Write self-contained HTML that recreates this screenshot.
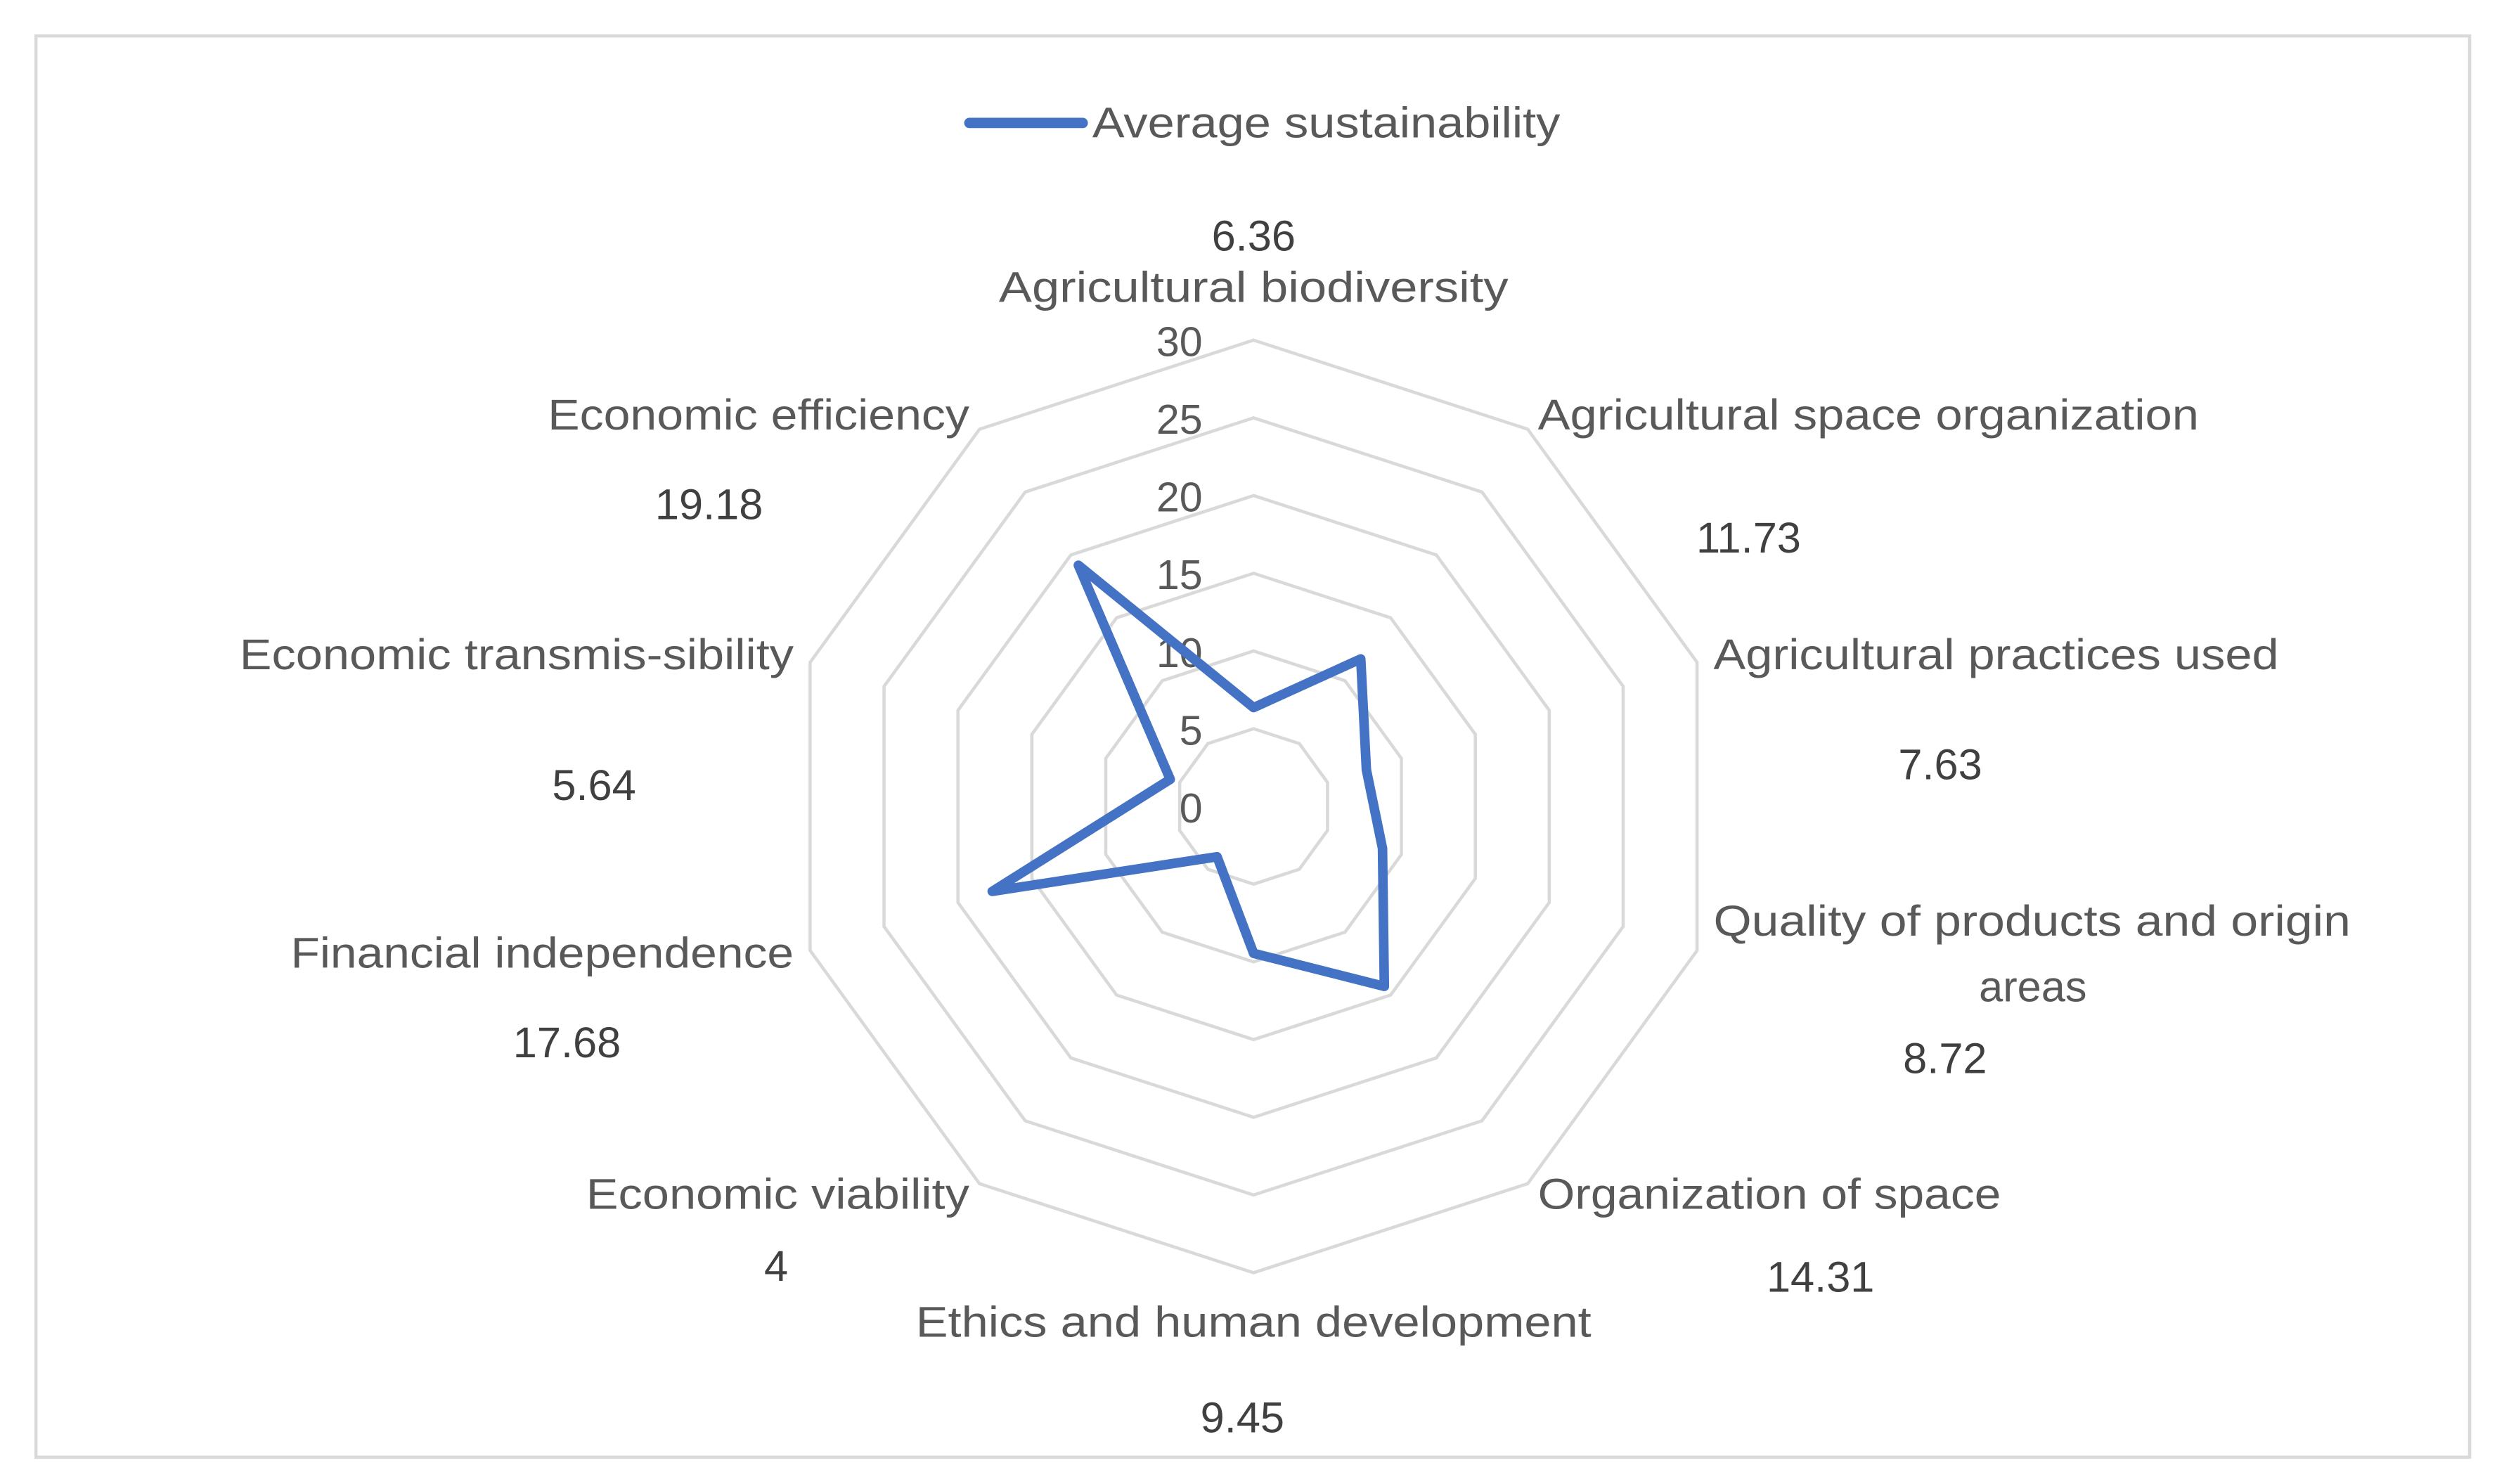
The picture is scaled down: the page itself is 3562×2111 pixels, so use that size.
<!DOCTYPE html>
<html><head><meta charset="utf-8"><style>
html,body{margin:0;padding:0;background:#fff;}
svg{display:block;}
text{font-family:"Liberation Sans",sans-serif;}
</style></head><body>
<svg id="chart" width="3562" height="2111" viewBox="0 0 1568 929.3" xmlns="http://www.w3.org/2000/svg">
<rect x="22.5" y="22.5" width="1524" height="890" fill="#fff" stroke="#D9D9D9" stroke-width="2"/>
<g id="grid"></g>
<g id="ticks"></g>
<g id="series"></g>
<g id="labels"></g>
<g>
<line x1="607" y1="77" x2="678" y2="77" stroke="#4472C4" stroke-width="6.5" stroke-linecap="round"/>
<text x="684" y="86" font-size="27" fill="#595959" textLength="293" lengthAdjust="spacingAndGlyphs">Average sustainability</text>
</g>
</svg>
<script>
const categories = ["Agricultural biodiversity","Agricultural space organization","Agricultural practices used","Quality of products and origin areas","Organization of space","Ethics and human development","Economic viability","Financial independence","Economic transmis-sibility","Economic efficiency"];
const values = [6.36,11.73,7.63,8.72,14.31,9.45,4,17.68,5.64,19.18];
const valueLabels = ["6.36","11.73","7.63","8.72","14.31","9.45","4","17.68","5.64","19.18"];
const tickValues = [0,5,10,15,20,25,30];
const tickLabels = ["0","5","10","15","20","25","30"];

const NS="http://www.w3.org/2000/svg";
const cx=785, cy=505, R=292, vmin=0, vmax=30;
const n=categories.length;
function rScale(v){return (v-vmin)/(vmax-vmin)*R;}
function pt(i,v){const a=-Math.PI/2+i*2*Math.PI/n;const r=rScale(v);return [cx+r*Math.cos(a),cy+r*Math.sin(a)];}
function mk(tag,attrs){const e=document.createElementNS(NS,tag);for(const k in attrs)e.setAttribute(k,attrs[k]);return e;}

const grid=document.getElementById('grid');
tickValues.forEach((t)=>{
  if(t===0) return;
  const p=[];for(let i=0;i<n;i++)p.push(pt(i,t).join(','));
  const poly=mk('polygon',{points:p.join(' '),fill:'none',stroke:'#D9D9D9','stroke-width':2});
  
  
  grid.appendChild(poly);
});
const ticks=document.getElementById('ticks');
tickValues.forEach((t,k)=>{
  const y=cy-rScale(t);
  const tx=mk('text',{x:753,y:y+10,'font-size':26,fill:'#595959','text-anchor':'end'});
  
  
  tx.textContent=tickLabels[k];
  ticks.appendChild(tx);
});
const series=document.getElementById('series');
const sp=values.map((v,i)=>pt(i,v).join(','));
const line=mk('polygon',{points:sp.join(' '),fill:'none',stroke:'#4472C4','stroke-width':6,'stroke-linejoin':'round'});


series.appendChild(line);

// label layout [catX, catY, anchor, valX, valY, catWidth]
const lay=[
 [785,189,'middle',785,157,319],
 [963,269,'start',1095,346,414],
 [1073,419,'start',1215,488,354],
 [1073,586,'start',1218,672,399],
 [963,757,'start',1140,809,290],
 [785,837,'middle',778,897,423],
 [607,757,'end',486,802,240],
 [497,606,'end',355,662,315],
 [497,419,'end',372,501,347],
 [607,269,'end',444,325,264]
];
const labels=document.getElementById('labels');
categories.forEach((c,i)=>{
  const L=lay[i];
  const t=mk('text',{x:L[0],y:L[1],'font-size':27,fill:'#595959','text-anchor':L[2],textLength:L[5],lengthAdjust:'spacingAndGlyphs'});
  
  
  if(i===3){
    t.textContent="Quality of products and origin";
    const t2=mk('text',{x:1273,y:627,'font-size':27,fill:'#595959','text-anchor':'middle'});
    
    
    t2.textContent="areas";
    labels.appendChild(t2);
  } else t.textContent=c;
  labels.appendChild(t);
  const v=mk('text',{x:L[3],y:L[4],'font-size':27,fill:'#404040','text-anchor':'middle'});
  
  
  v.textContent=valueLabels[i];
  labels.appendChild(v);
});
</script>
</body></html>
